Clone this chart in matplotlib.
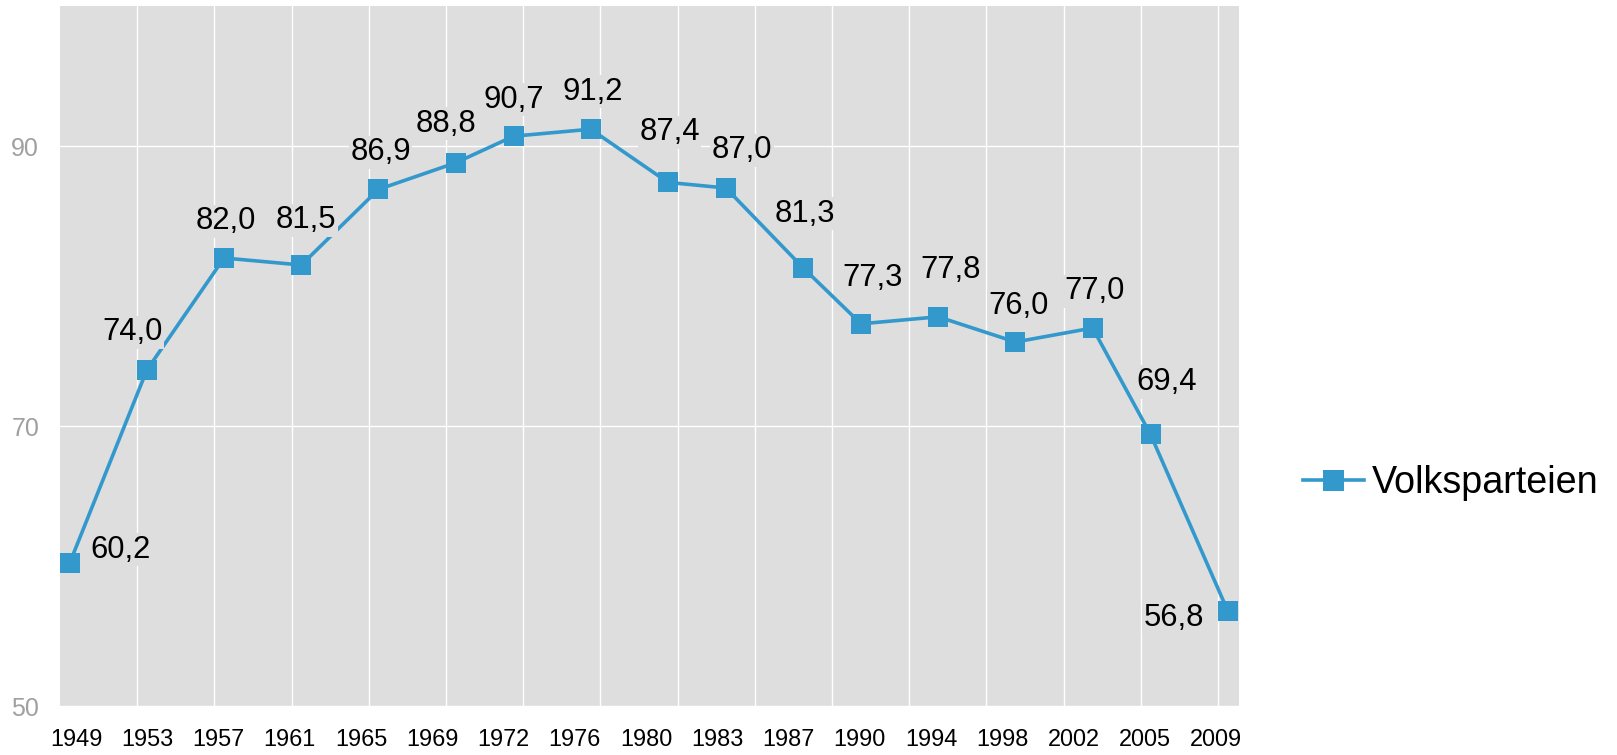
import matplotlib
matplotlib.use("Agg")
import matplotlib.pyplot as plt
import numpy as np

plt.rcParams['font.family'] = ['Liberation Sans', 'DejaVu Sans']

# Bundestag elections: combined vote share of the two big parties (%)
years = [1949, 1953, 1957, 1961, 1965, 1969, 1972, 1976, 1980,
         1983, 1987, 1990, 1994, 1998, 2002, 2005, 2009]
share = [60.2, 74.0, 82.0, 81.5, 86.9, 88.8, 90.7, 91.2, 87.4,
         87.0, 81.3, 77.3, 77.8, 76.0, 77.0, 69.4, 56.8]
tick_labels = [str(y) for y in years]
series_name = "Volksparteien"

# label placement relative to each point (pixels: right, down)
label_shift = [(51, -16.5), (-14.5, -41), (1.5, -40), (5, -48), (2, -40),
               (-10, -42), (0, -39.5), (2, -40.5), (1.5, -53), (16, -41),
               (2, -57), (12, -49), (12, -50), (3, -39), (2, -40),
               (16, -55.5), (-54, 4)]

BG = '#dedede'
BLUE = '#3399cc'
DPI = 100
PX = 72.0 / DPI  # points per pixel

fig = plt.figure(figsize=(16.17, 7.55), dpi=DPI)
ax = fig.add_axes([60 / 1617, 1 - 706 / 755, (1239.3 - 60) / 1617, 700 / 755])
ax.set_facecolor(BG)

ax.plot(years, share, color=BLUE, lw=2.6, marker='s', markersize=14,
        markeredgewidth=0, label=series_name, zorder=2, clip_on=False)

label_fs = 31 * PX
for x, v, (dx, dy) in zip(years, share, label_shift):
    ax.annotate(f"{v:.1f}".replace('.', ','), (x, v),
                xytext=(dx * PX, -(dy + 0.358 * 31) * PX),
                textcoords='offset points', ha='center', va='baseline',
                fontsize=label_fs, color='black', zorder=3,
                bbox=dict(boxstyle='square,pad=0.05', fc=BG, ec='none'))

ax.set_xlim(1948.5, 2009.6)
ax.set_ylim(50, 100)
ax.set_yticks([50, 70, 90])
ax.set_xticks(np.arange(1952.5, 2009, 4))
ax.set_xticklabels([])
ax.grid(True, color='white', lw=1.0)
ax.set_axisbelow(True)
ax.tick_params(axis='both', length=0)
ax.tick_params(axis='y', pad=15, labelsize=25 * PX, labelcolor='#a0a0a0')
for s in ax.spines.values():
    s.set_visible(False)

# evenly spaced year labels along the bottom
ax2 = ax.twiny()
ax2.set_xlim(-0.2246, 16.327)
ax2.xaxis.set_ticks_position('bottom')
ax2.xaxis.set_label_position('bottom')
ax2.set_xticks(range(len(tick_labels)))
ax2.set_xticklabels(tick_labels)
ax2.tick_params(axis='x', length=0, pad=16, labelsize=23.5 * PX, labelcolor='black')
for s in ax2.spines.values():
    s.set_visible(False)

fig.legend(*ax.get_legend_handles_labels(), loc='center left',
           bbox_to_anchor=(1303 / 1617, 1 - 483 / 755), frameon=False,
           fontsize=37.8 * PX, handlelength=1.61, handletextpad=0.21,
           borderpad=0, borderaxespad=0, numpoints=1, markerscale=1.08)

fig.savefig('out.png', dpi=DPI, facecolor='white')
